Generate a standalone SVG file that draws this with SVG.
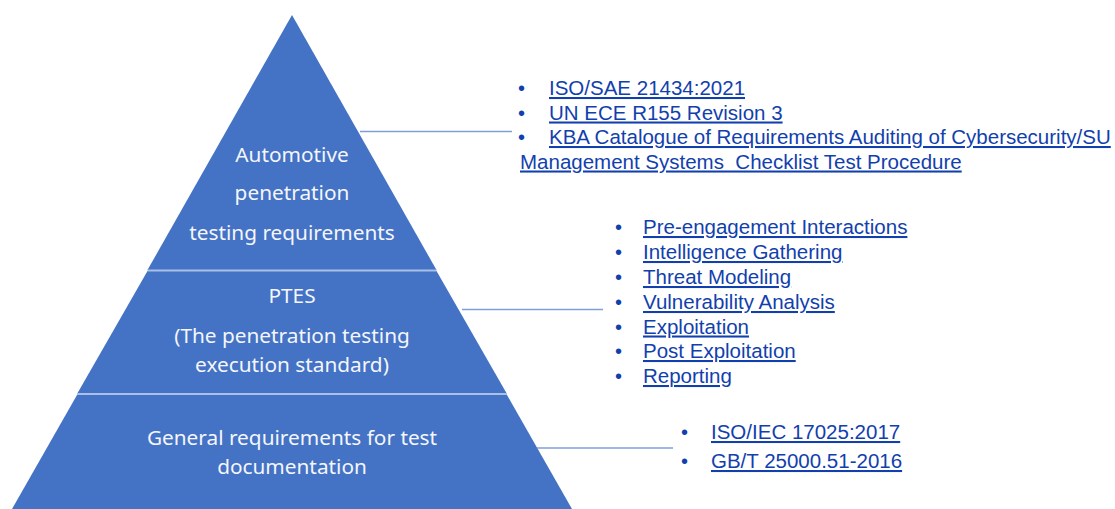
<svg xmlns="http://www.w3.org/2000/svg" width="1115" height="509" viewBox="0 0 1115 509">
  <style>
    .tier { fill: #4472C4; }
    .divider { stroke: #A9BFE6; stroke-width: 2; }
    .tier-label { font-family: "Noto Sans", "Open Sans", sans-serif; font-size: 20.8px; fill: #F4F6FB; text-anchor: middle; }
    .ref { font-family: "Liberation Sans", Arial, sans-serif; font-size: 20.5px; fill: #123FAE; text-decoration: underline; }
    .bullet { font-family: "Liberation Sans", Arial, sans-serif; font-size: 20px; fill: #123FAE; }
    .link { stroke: #7F9FDB; stroke-width: 1.5; fill: none; }
  </style>

  <rect width="1115" height="509" fill="#FFFFFF"/>

  <!-- Pyramid tiers -->
  <g id="tier-automotive">
    <polygon class="tier" points="292,15 436.5,270 147.5,270"/>
    <text class="tier-label" x="292" y="162">Automotive</text>
    <text class="tier-label" x="292" y="200">penetration</text>
    <text class="tier-label" x="292" y="240">testing requirements</text>
  </g>

  <g id="tier-ptes">
    <polygon class="tier" points="147.5,271 436.5,271 507,394 77,394"/>
    <text class="tier-label" x="292" y="303">PTES</text>
    <text class="tier-label" x="292" y="343">(The penetration testing</text>
    <text class="tier-label" x="292" y="372">execution standard)</text>
  </g>

  <g id="tier-general">
    <polygon class="tier" points="77,395 507,395 572,509 12,509"/>
    <text class="tier-label" x="292" y="445">General requirements for test</text>
    <text class="tier-label" x="292" y="474">documentation</text>
  </g>

  <!-- Tier separators -->
  <g id="separators">
    <line class="divider" x1="147.5" y1="270.5" x2="436.5" y2="270.5"/>
    <line class="divider" x1="77" y1="394" x2="507" y2="394"/>
  </g>

  <!-- Leader lines from tiers to reference lists -->
  <g id="connectors">
    <line class="link" x1="360" y1="131.5" x2="512" y2="131.5"/>
    <line class="link" x1="462" y1="309.5" x2="603" y2="309.5"/>
    <line class="link" x1="537" y1="448" x2="673" y2="448"/>
  </g>

  <!-- Automotive standards -->
  <g id="list-automotive">
    <text class="bullet" x="518" y="95">•</text>
    <text class="ref" x="549" y="95">ISO/SAE 21434:2021</text>
    <text class="bullet" x="518" y="119.5">•</text>
    <text class="ref" x="549" y="119.5">UN ECE R155 Revision 3</text>
    <text class="bullet" x="518" y="144">•</text>
    <text class="ref" x="549" y="144">KBA Catalogue of Requirements Auditing of Cybersecurity/SU</text>
    <text class="ref" x="520" y="168.5" xml:space="preserve">Management Systems  Checklist Test Procedure</text>
  </g>

  <!-- PTES phases -->
  <g id="list-ptes">
    <text class="bullet" x="615" y="234">•</text>
    <text class="ref" x="643" y="234">Pre-engagement Interactions</text>
    <text class="bullet" x="615" y="259">•</text>
    <text class="ref" x="643" y="259">Intelligence Gathering</text>
    <text class="bullet" x="615" y="284">•</text>
    <text class="ref" x="643" y="284">Threat Modeling</text>
    <text class="bullet" x="615" y="309">•</text>
    <text class="ref" x="643" y="309">Vulnerability Analysis</text>
    <text class="bullet" x="615" y="333.5">•</text>
    <text class="ref" x="643" y="333.5">Exploitation</text>
    <text class="bullet" x="615" y="358">•</text>
    <text class="ref" x="643" y="358">Post Exploitation</text>
    <text class="bullet" x="615" y="383">•</text>
    <text class="ref" x="643" y="383">Reporting</text>
  </g>

  <!-- General documentation standards -->
  <g id="list-general">
    <text class="bullet" x="681" y="439">•</text>
    <text class="ref" x="711" y="439">ISO/IEC 17025:2017</text>
    <text class="bullet" x="681" y="468">•</text>
    <text class="ref" x="711" y="468">GB/T 25000.51-2016</text>
  </g>
</svg>
